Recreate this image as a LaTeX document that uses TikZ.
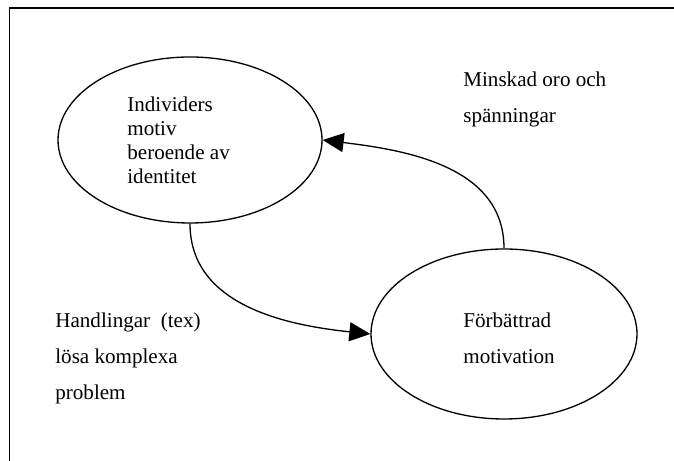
\documentclass[tikz,border=0pt]{standalone}
\usepackage{fontspec}
\setmainfont{Liberation Serif}
\usetikzlibrary{arrows.meta,shapes.geometric}

\tikzset{
    bubble/.style={draw, ellipse, line width=0.75pt, inner sep=0pt},
    txt/.style={anchor=base west, align=left, inner sep=0pt},
    flow/.style={line width=0.75pt, -{Triangle[length=0.42cm,width=0.38cm]}}
}

\begin{document}
\begin{tikzpicture}
        \useasboundingbox (0,0) rectangle (13.48,9.22);

        % Draw the frame (only top and left edge)
        \draw[line width=0.75pt] (0.19,0) |- (13.48,9.06);

        % Draw the two ellipses
        \node[bubble, minimum width=5.28cm, minimum height=3.32cm] (ind) at (3.80,6.42) {};
        \node[bubble, minimum width=5.32cm, minimum height=3.40cm] (mot) at (10.08,2.54) {};

        % Text inside the ellipses (placed at the baseline of the last line)
        \node[txt, font=\fontsize{12}{13.8}\selectfont] (indtext) at (2.54,5.54) {Individers\\motiv\\beroende av\\identitet};
        \node[txt, font=\fontsize{12}{20.7}\selectfont] (mottext) at (9.26,1.94) {Förbättrad\\motivation};

        % Labels of the two arrows
        \foreach \x/\y/\name/\label in {9.26/6.76/oro/{Minskad oro och\\spänningar}, 1.10/1.22/handl/{Handlingar~ (tex)\\lösa komplexa\\problem}} {
            \node[txt, font=\fontsize{12}{20.7}\selectfont] (\name) at (\x,\y) {\label};
        }

        % Arrows between the ellipses
        \draw[flow] (mot.north) to[out=90, in=-7] (ind.east);
        \draw[flow] (ind.south) to[out=-90, in=174] (mot.west);

\end{tikzpicture}
\end{document}
